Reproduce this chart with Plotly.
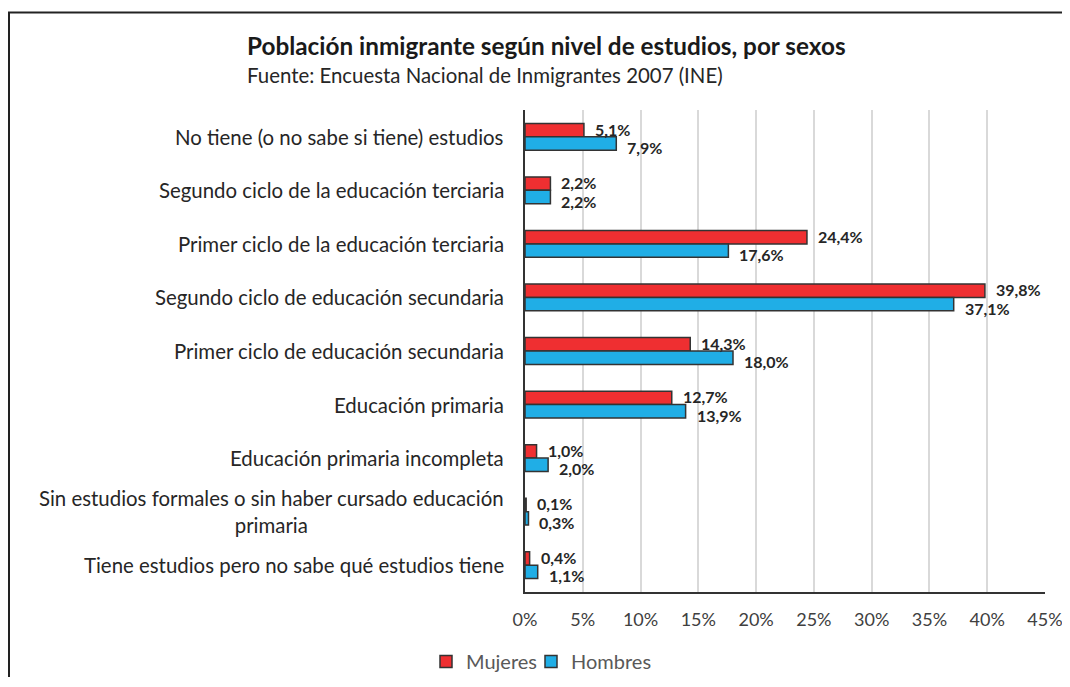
import plotly.graph_objects as go

categories = [
    "No tiene (o no sabe si tiene) estudios",
    "Segundo ciclo de la educación terciaria",
    "Primer ciclo de la educación terciaria",
    "Segundo ciclo de educación secundaria",
    "Primer ciclo de educación secundaria",
    "Educación primaria",
    "Educación primaria incompleta",
    "Sin estudios formales o sin haber cursado educación<br>primaria",
    "Tiene estudios pero no sabe qué estudios tiene",
]
mujeres = [5.1, 2.2, 24.4, 39.8, 14.3, 12.7, 1.0, 0.1, 0.4]
hombres = [7.9, 2.2, 17.6, 37.1, 18.0, 13.9, 2.0, 0.3, 1.1]
tick_values = [0, 5, 10, 15, 20, 25, 30, 35, 40, 45]
tick_labels = [f"{v}%" for v in tick_values]

# the page body adds an 8px margin on every side; keep the figure inside the
# viewport and work in reference-pixel coordinates
OFF = 8
W, H = 1070 - 2 * OFF, 669
L, T = 525 - OFF, 110 - OFF
pw, ph = 520, 482
R, B = W - L - pw, H - T - ph

def px_x(x):
    return (x - OFF - L) / pw

def px_y(y):
    return (H - B - (y - OFF)) / ph

def fmt(v):
    return f"{v:.1f}%".replace(".", ",")

FONT = "Lato"
HALF_BAR = ph / len(categories) * 0.5 / 4  # half of one bar's thickness, px

fig = go.Figure()
fig.add_trace(go.Bar(
    name="Mujeres", y=categories, x=mujeres, orientation="h",
    marker=dict(color="#EF2F31", line=dict(color="#333333", width=1.5)),
    hoverinfo="x+name", legendwidth=60,
))
fig.add_trace(go.Bar(
    name="Hombres", y=categories, x=hombres, orientation="h",
    marker=dict(color="#20AEE6", line=dict(color="#333333", width=1.5)),
    hoverinfo="x+name",
))

# data labels
for c, v in zip(categories, mujeres):
    fig.add_annotation(
        xref="x", yref="y", x=v, y=c, text=f"<b>{fmt(v)}</b>",
        xanchor="left", yanchor="middle", showarrow=False,
        xshift=9, yshift=HALF_BAR + 1,
        font=dict(family=FONT, size=16, color="#262626"),
    )
for c, v in zip(categories, hombres):
    fig.add_annotation(
        xref="x", yref="y", x=v, y=c, text=f"<b>{fmt(v)}</b>",
        xanchor="left", yanchor="middle", showarrow=False,
        xshift=9, yshift=-HALF_BAR - 4,
        font=dict(family=FONT, size=16, color="#262626"),
    )

# category labels (centered multi-line, right-aligned block)
for c in categories:
    fig.add_annotation(
        xref="paper", yref="y", x=px_x(506), y=c, text=c,
        xanchor="right", yanchor="middle", align="center", showarrow=False,
        font=dict(family=FONT, size=20.4, color="#262626"),
    )

fig.add_annotation(
    xref="paper", yref="paper", x=px_x(245), y=px_y(75),
    text="Fuente: Encuesta Nacional de Inmigrantes 2007 (INE)",
    xanchor="left", yanchor="middle", showarrow=False,
    font=dict(family=FONT, size=20.4, color="#262626"),
)

# outer frame (clipped at right/bottom like the reference)
fig.add_shape(type="line", xref="paper", yref="paper",
              x0=px_x(9), y0=px_y(700), x1=px_x(9), y1=px_y(12.5),
              line=dict(color="#222222", width=2), layer="above")
fig.add_shape(type="line", xref="paper", yref="paper",
              x0=px_x(8), y0=px_y(12.5), x1=px_x(1080), y1=px_y(12.5),
              line=dict(color="#222222", width=2), layer="above")

fig.update_layout(
    width=W, height=H,
    margin=dict(l=L, r=R, t=T, b=B, autoexpand=False),
    paper_bgcolor="white", plot_bgcolor="white",
    barmode="group", bargap=0.5, bargroupgap=0,
    title=dict(
        text="<b>Población inmigrante según nivel de estudios, por sexos</b>",
        xref="container", x=(247 - OFF) / W, xanchor="left",
        yref="container", y=1 - (46 - OFF) / H, yanchor="middle",
        font=dict(family=FONT, size=24.3, color="#1a1a1a"),
    ),
    font=dict(family=FONT),
    showlegend=True,
    legend=dict(
        orientation="h", xref="container", yref="container",
        x=(426 - OFF) / W, y=1 - (642 - OFF) / H, xanchor="left", yanchor="top",
        font=dict(family=FONT, size=20, color="#595959"),
        traceorder="normal", itemwidth=30,
    ),
    xaxis=dict(
        range=[0, 45], tickmode="array", tickvals=tick_values, ticktext=tick_labels,
        showgrid=True, gridcolor="#D9D9D9", gridwidth=1.5,
        showline=True, linecolor="#333333", linewidth=1.5,
        zeroline=False, automargin=False, ticklabeloverflow="allow",
        ticks="outside", ticklen=11, tickcolor="rgba(0,0,0,0)",
        tickfont=dict(family=FONT, size=18, color="#404040"),
    ),
    yaxis=dict(
        autorange="reversed", showticklabels=False, automargin=False,
        showline=True, linecolor="#333333", linewidth=1.5,
        showgrid=False, zeroline=False, ticks="",
    ),
)

fig.write_html("out.html")
